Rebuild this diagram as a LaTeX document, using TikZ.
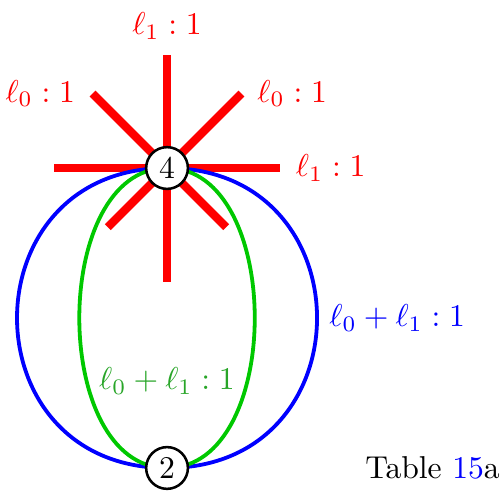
\documentclass[tikz,border=0pt]{standalone}
\usepackage{amsmath}
\usepackage{tikz}
\usetikzlibrary{positioning, calc, backgrounds}
\usepackage{xcolor}
\definecolor{legRed}{RGB}{255, 0, 0}
\definecolor{loopBlue}{RGB}{0, 0, 255}
\definecolor{lineGreen}{RGB}{0, 200, 0}
\definecolor{textGreen}{RGB}{40, 165, 40}

\begin{document}
\begin{tikzpicture}[
        vertex/.style={circle, draw=black, thick, fill=white, minimum size=13.2pt, inner sep=0pt},
        leg/.style={legRed, line width=2.6pt},
        legtext/.style={text=legRed},
        outer/.style={loopBlue, line width=1.2pt},
        inner/.style={lineGreen, line width=1.2pt}
    ]
        \useasboundingbox (-1.856,-3.589) rectangle (3.70,1.867);
        \node[vertex] (v4) at (0,0) {4};
        \node[vertex] (v2) at (0,-3.333) {2};
        \node[right=1.95cm of v2, inner sep=0pt] (tab) {Table \textcolor{loopBlue}{15}a};

        \begin{scope}[on background layer]
            % legs at vertex 4
            \foreach \ang/\len/\nm in {90/1.256/N, 45/1.17/NE, 135/1.17/NW, 0/1.256/E,
                                       180/1.256/W, 270/1.267/S, -45/0.93/SE, -135/0.93/SW}
                \draw[leg] (v4.center) -- ++(\ang:\len) coordinate (leg\nm);

            % edges between 4 and 2
            \draw[outer] (v4.center) to[out=180, in=180, looseness=1.71] (v2.center);
            \draw[outer] (v4.center) to[out=0, in=0, looseness=1.71]
                node[midway, right, text=loopBlue] (labBlue) {$\ell_0+\ell_1:1$} (v2.center);
            \draw[inner] (v4.center) to[out=180, in=180, looseness=1.0] (v2.center);
            \draw[inner] (v4.center) to[out=0, in=0, looseness=1.0] (v2.center);
        \end{scope}

        \node[legtext, above=1.5pt of legN] (labN) {$\ell_1:1$};
        \node[legtext, left=2pt of legNW] (labNW) {$\ell_0:1$};
        \node[legtext, right=1.5pt of legNE] (labNE) {$\ell_0:1$};
        \node[legtext, right=1.5pt of legE] (labE) {$\ell_1:1$};
        \node[text=textGreen] (labGreen) at ($(v4)!0.71!(v2)$) {$\ell_0+\ell_1:1$};
    \end{tikzpicture}
\end{document}
